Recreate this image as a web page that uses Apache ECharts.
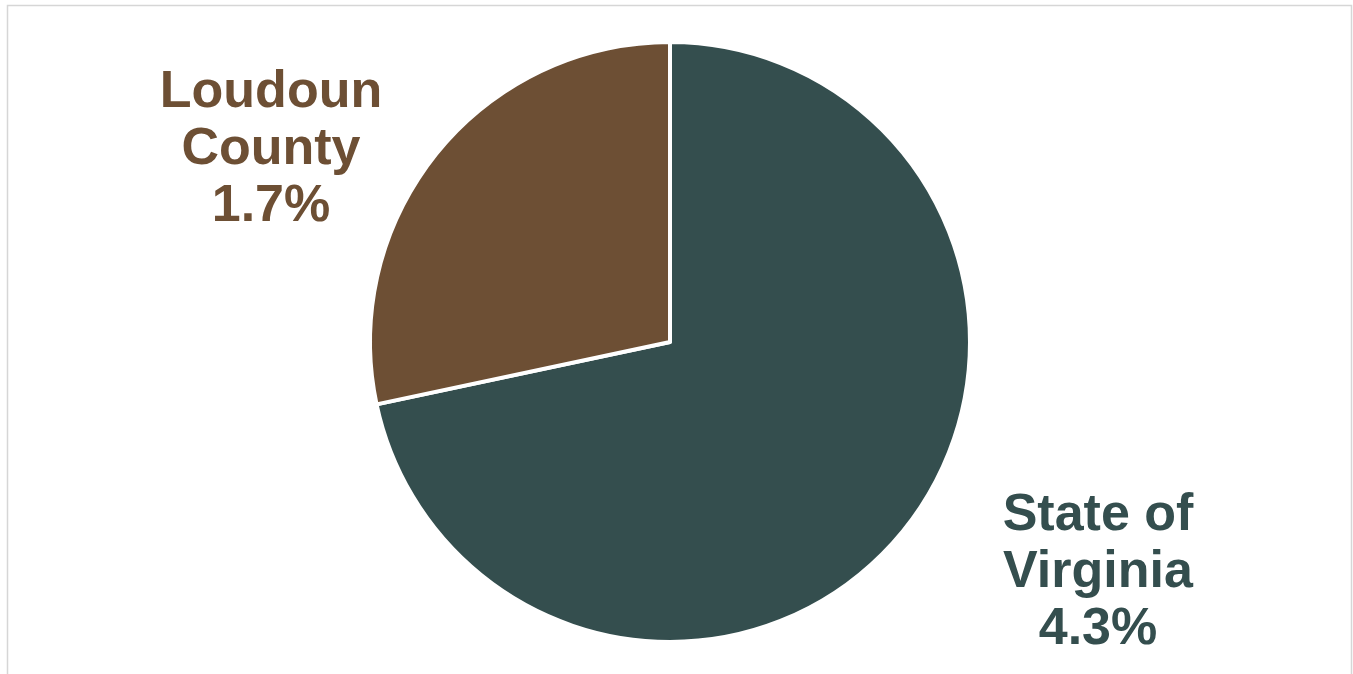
<!DOCTYPE html>
<html>
<head>
<meta charset="utf-8">
<title>Loudoun County vs State of Virginia</title>
<script src="https://cdn.jsdelivr.net/npm/echarts@6/dist/echarts.min.js"></script>
<style>
  html, body { margin: 0; padding: 0; background: #fff; }
  #chart { width: 1353px; height: 674px; }
</style>
</head>
<body>
<div id="chart"></div>
<script>
  // data
  var names = ['State of\nVirginia', 'Loudoun\nCounty'];
  var values = [4.3, 1.7];
  var colors = ['#344e4e', '#6d4f34'];

  // where the labels sit (px)
  var labelSpots = [[1098, 573], [271, 150]];

  var chart = echarts.init(document.getElementById('chart'));

  var seriesData = names.map(function (n, i) {
    return {
      name: n,
      value: values[i],
      itemStyle: { color: colors[i] },
      label: { color: colors[i] }
    };
  });

  chart.setOption({
    animation: false,
    graphic: [{
      type: 'rect',
      shape: { x: 7.5, y: 5.5, width: 1344, height: 680 },
      style: { fill: 'none', stroke: '#d6d6d6', lineWidth: 1.5 },
      silent: true
    }],
    series: [{
      type: 'pie',
      center: [670, 342],
      radius: 300,
      startAngle: 90,
      clockwise: true,
      itemStyle: { borderColor: '#fff', borderWidth: 4 },
      label: {
        show: true,
        formatter: function (p) { return p.name + '\n' + p.value + '%'; },
        fontFamily: '"Liberation Sans", Arial, Helvetica, sans-serif',
        fontWeight: 'bold',
        fontSize: 52,
        lineHeight: 57,
        align: 'center'
      },
      labelLine: { show: false },
      labelLayout: function (p) {
        var s = labelSpots[p.dataIndex];
        return { x: s[0], y: s[1], align: 'center', verticalAlign: 'middle' };
      },
      emphasis: { disabled: true },
      data: seriesData
    }]
  });
</script>
</body>
</html>
